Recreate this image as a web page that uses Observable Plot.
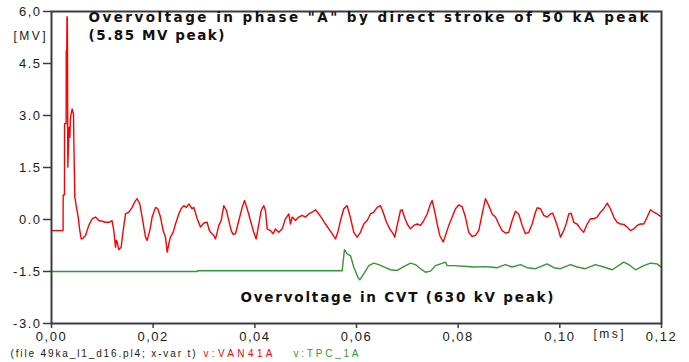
<!DOCTYPE html>
<html>
<head>
<meta charset="utf-8">
<script src="https://cdn.jsdelivr.net/npm/d3@7"></script>
<script src="https://cdn.jsdelivr.net/npm/@observablehq/plot@0.6"></script>
<style>
  html, body { margin: 0; padding: 0; background: #fff; }
  #chart { width: 689px; height: 362px; }
  #chart g[aria-label="x-axis tick label"] text,
  #chart g[aria-label="y-axis tick label"] text { letter-spacing: 1.5px; }
</style>
</head>
<body>
<div id="chart"></div>
<script>
// ---- data (time in ms, voltage in MV) ----
const redT = [0,0.00228,0.00230,0.00255,0.00257,0.00288,0.00290,0.00300,0.00305,0.00312,0.00321,0.00335,0.00348,0.00361,0.00372,0.00387,0.00407,0.00420,0.00433,0.00439,0.00459,0.00525,0.00557,0.00584,0.00603,0.00636,0.00669,0.00734,0.0080,0.00865,0.0093,0.00997,0.0106,0.0113,0.0119,0.01226,0.01259,0.01275,0.01292,0.01324,0.0137,0.0141,0.01456,0.0152,0.01587,0.01633,0.01685,0.01737,0.01783,0.01849,0.01882,0.01934,0.0198,0.02046,0.02091,0.02144,0.02196,0.02242,0.02275,0.02308,0.0234,0.02393,0.02439,0.02504,0.0255,0.02603,0.02655,0.02701,0.02767,0.028,0.02866,0.02931,0.02996,0.03062,0.03095,0.03128,0.03193,0.03226,0.03259,0.03291,0.03338,0.03389,0.03442,0.03488,0.03535,0.03574,0.03619,0.03685,0.03751,0.03796,0.03849,0.03914,0.03979,0.04026,0.04078,0.04125,0.04176,0.04209,0.04243,0.04308,0.04361,0.04406,0.04471,0.04538,0.04603,0.04668,0.04701,0.04735,0.04799,0.04864,0.04931,0.04996,0.05061,0.05128,0.05193,0.05258,0.05325,0.0539,0.05455,0.05521,0.05586,0.05632,0.05685,0.0575,0.05816,0.05881,0.05946,0.06013,0.06078,0.06143,0.0621,0.06275,0.0634,0.06406,0.06471,0.06524,0.0659,0.06654,0.06721,0.06753,0.068,0.06865,0.06898,0.06943,0.06997,0.07062,0.07127,0.07193,0.07258,0.07323,0.0739,0.07455,0.07488,0.07534,0.07587,0.07638,0.07705,0.0775,0.07815,0.07882,0.07947,0.08012,0.08079,0.08143,0.08208,0.08275,0.0834,0.08405,0.08472,0.08537,0.08602,0.08669,0.08734,0.08798,0.08865,0.0893,0.08995,0.09062,0.09127,0.09192,0.09259,0.09324,0.09389,0.09455,0.0952,0.09554,0.09619,0.09684,0.0975,0.09815,0.09861,0.09914,0.09979,0.10012,0.10077,0.10124,0.10176,0.10222,0.10274,0.1034,0.10405,0.1047,0.10537,0.10602,0.10667,0.10734,0.10799,0.10864,0.10931,0.10996,0.1106,0.11127,0.11192,0.11257,0.11324,0.11389,0.11454,0.11521,0.11586,0.11651,0.11718,0.11783,0.11848,0.11915,0.1198];
const redV = [-0.32,-0.32,0.71,0.71,2.76,2.76,4.87,4.87,5.85,5.80,1.51,2.2,2.66,2.37,2.9,3.05,3.19,3.1,3.05,2.28,0.64,0.07,-0.32,-0.56,-0.56,-0.51,-0.46,-0.17,0.02,0.07,-0.03,-0.05,-0.08,-0.08,-0.03,-0.32,-0.80,-0.6,-0.65,-0.87,-0.80,-0.32,0.16,0.21,0.35,0.50,0.60,0.45,0.07,-0.51,-0.60,-0.32,0.07,0.35,0.31,0.07,-0.32,-0.51,-0.94,-0.70,-0.51,-0.37,-0.13,0.16,0.31,0.40,0.35,0.45,0.31,0.35,0.02,-0.22,-0.1,-0.08,-0.27,-0.37,-0.46,-0.56,-0.37,-0.17,-0.03,0.40,0.26,-0.03,-0.32,-0.43,-0.41,-0.03,0.35,0.55,0.31,-0.03,-0.37,-0.56,-0.13,0.26,0.40,0.26,-0.27,-0.32,-0.41,-0.27,-0.37,-0.27,0.02,0.16,-0.13,0.07,-0.03,0.07,0.12,0.07,0.16,0.21,0.28,0.16,0.02,-0.13,-0.27,-0.41,-0.56,-0.37,-0.03,0.31,0.40,0.05,-0.37,-0.51,-0.37,-0.13,-0.03,0.16,0.21,0.35,0.40,0.21,-0.08,-0.27,-0.41,-0.51,-0.17,0.26,0.28,0.07,-0.13,-0.27,-0.17,-0.13,-0.17,-0.03,0.16,0.45,0.55,0.26,-0.13,-0.46,-0.65,-0.46,-0.17,0.07,0.31,0.42,0.37,0.07,-0.37,-0.49,-0.46,-0.32,0.16,0.60,0.40,0.16,0.07,-0.13,-0.32,-0.39,-0.37,-0.03,0.24,0.16,-0.17,-0.41,-0.37,-0.13,0.21,0.34,0.31,0.12,0.07,0.16,0.18,-0.03,-0.32,-0.51,-0.32,-0.13,0.16,0.18,-0.08,-0.13,-0.27,-0.37,-0.13,0.02,0.02,0.07,0.21,0.31,0.47,0.31,0.07,-0.08,-0.13,-0.14,-0.22,-0.32,-0.27,-0.17,-0.13,-0.13,0.07,0.28,0.21,0.16,0.09];

const greenT = [0,0.0287,0.02875,0.05718,0.05763,0.05816,0.05881,0.05946,0.06025,0.06064,0.06143,0.06241,0.0634,0.06438,0.0657,0.06668,0.068,0.0693,0.07062,0.0716,0.07258,0.07357,0.07455,0.07553,0.07652,0.0775,0.07783,0.07913,0.0811,0.08307,0.08503,0.08635,0.08767,0.0893,0.09062,0.09225,0.09357,0.0952,0.0975,0.0988,0.10012,0.10209,0.1034,0.10504,0.107,0.10864,0.11029,0.11257,0.11356,0.11487,0.11651,0.11783,0.11915,0.1198];
const greenV = [-1.50,-1.50,-1.48,-1.48,-0.87,-0.99,-1.04,-1.37,-1.66,-1.74,-1.57,-1.33,-1.26,-1.30,-1.39,-1.45,-1.47,-1.36,-1.26,-1.30,-1.42,-1.52,-1.49,-1.33,-1.28,-1.23,-1.33,-1.33,-1.35,-1.37,-1.36,-1.37,-1.39,-1.30,-1.37,-1.30,-1.39,-1.42,-1.28,-1.39,-1.42,-1.30,-1.37,-1.42,-1.30,-1.37,-1.45,-1.23,-1.30,-1.45,-1.33,-1.26,-1.28,-1.36];

const xTicks = [0, 0.02, 0.04, 0.06, 0.08, 0.10, 0.12];
const xTickLabels = ["0,00", "0,02", "0,04", "0,06", "0,08", "0,10", "0,12"];
const yTicks = [-3, -1.5, 0, 1.5, 3, 4.5, 6];
const yTickLabels = ["-3.0", "-1.5", "0.0", "1.5", "3.0", "4.5", "6,0"];

const titleLines = ["Overvoltage in phase \"A\" by direct stroke of 50 kA peak", "(5.85 MV peak)"];
const cvtText = "Overvoltage in CVT (630 kV peak)";
const fileText = "(file 49ka_l1_d16.pl4; x-var t)";
const seriesNames = ["v:VAN41A", "v:TPC_1A"];
const yUnit = "[MV]";
const xUnit = "[ms]";

// ---- build ----
const red = redT.map((t, i) => ({t, v: redV[i]}));
const green = greenT.map((t, i) => ({t, v: greenV[i]}));
const RED = "#ff0000", GREEN = "#2f9a2f", FRAME = "#3c3c3c", INK = "#1a1a1a";
const BOLD_FONT = "'DejaVu Sans', 'Liberation Sans', sans-serif";

const chart = Plot.plot({
  width: 689,
  height: 362,
  marginLeft: 51,
  marginRight: 28,
  marginTop: 11,
  marginBottom: 39,
  style: {fontFamily: "'Liberation Sans', Arial, sans-serif", fontSize: "13px", background: "#fff", color: INK},
  x: {domain: [0, 0.12]},
  y: {domain: [-3, 6]},
  marks: [
    Plot.axisX({ticks: xTicks, tickFormat: d => xTickLabels[xTicks.indexOf(d)], tickSize: 5, tickPadding: 3, stroke: FRAME, strokeWidth: 1.5, fontSize: 13, fill: INK, label: null}),
    Plot.axisY({ticks: yTicks, tickFormat: d => yTickLabels[yTicks.indexOf(d)], tickSize: 8, tickPadding: 2, stroke: FRAME, strokeWidth: 1.5, fontSize: 13, fill: INK, label: null}),
    Plot.line(green, {x: "t", y: "v", stroke: GREEN, strokeWidth: 1.4}),
    Plot.line(red, {x: "t", y: "v", stroke: RED, strokeWidth: 1.4}),
    Plot.frame({stroke: FRAME, strokeWidth: 2}),
    Plot.text([titleLines.join("\n")], {frameAnchor: "top-left", textAnchor: "start", lineAnchor: "middle", dx: 37, dy: 14, lineHeight: 1.3, fontSize: 13.5, fontWeight: "bold", fontFamily: BOLD_FONT, fill: "#111"}),
    Plot.text([cvtText], {frameAnchor: "bottom-left", textAnchor: "start", lineAnchor: "middle", dx: 189, dy: -25.5, fontSize: 13.5, fontWeight: "bold", fontFamily: BOLD_FONT, fill: "#111"}),
    Plot.text([yUnit], {frameAnchor: "top-left", textAnchor: "end", lineAnchor: "middle", dx: -6, dy: 24.5, fontSize: 12, fill: INK}),
    Plot.text([xUnit], {frameAnchor: "bottom-right", textAnchor: "middle", lineAnchor: "middle", dx: -53, dy: 10.5, fontSize: 12, fill: INK}),
    Plot.text([fileText], {frameAnchor: "bottom-left", textAnchor: "start", lineAnchor: "middle", dx: -41, dy: 30, fontSize: 10, fill: INK}),
    Plot.text([seriesNames[0]], {frameAnchor: "bottom-left", textAnchor: "start", lineAnchor: "middle", dx: 152, dy: 30, fontSize: 10, fill: RED}),
    Plot.text([seriesNames[1]], {frameAnchor: "bottom-left", textAnchor: "start", lineAnchor: "middle", dx: 242, dy: 30, fontSize: 10, fill: GREEN})
  ]
});

// widen the spaced-out lettering of the original plot output
const textWidths = new Map([
  [titleLines[0], 560], [titleLines[1], 136], [cvtText, 313],
  [fileText, 185], [seriesNames[0], 69], [seriesNames[1], 65],
  [yUnit, 32], [xUnit, 30]
]);
d3.select(chart).selectAll("text, tspan").each(function () {
  if (this.tagName === "text" && this.querySelector("tspan")) return;
  const w = textWidths.get(this.textContent);
  if (w) {
    this.setAttribute("textLength", w);
    this.setAttribute("lengthAdjust", "spacing");
  }
});
document.getElementById("chart").appendChild(chart);
</script>
</body>
</html>
